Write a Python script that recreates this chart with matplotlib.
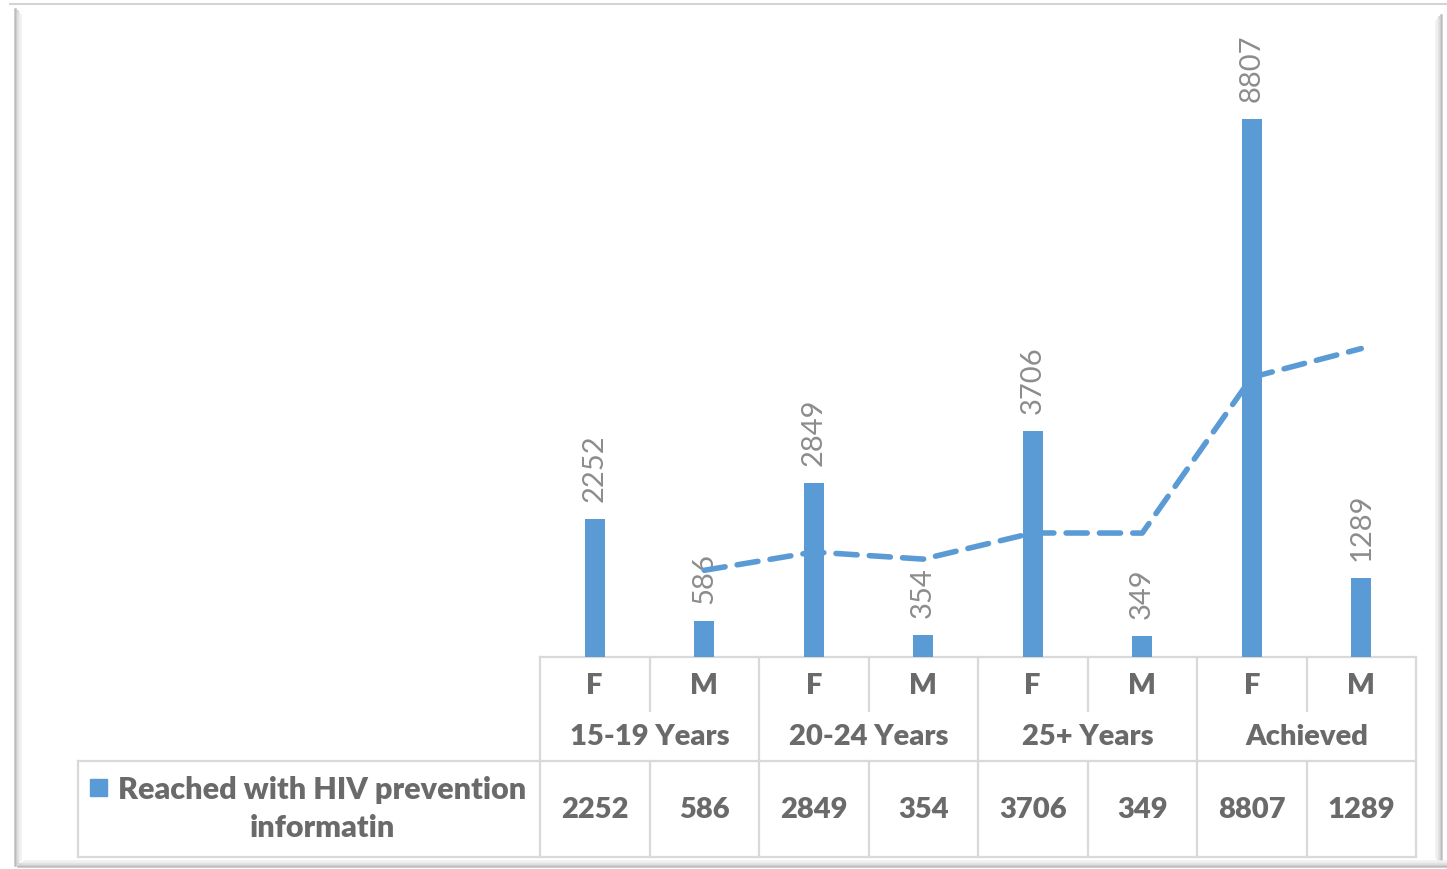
import numpy as np
import matplotlib
matplotlib.use("Agg")
import matplotlib.pyplot as plt

plt.rcParams['font.family'] = ['Lato', 'DejaVu Sans']

# data
sexes = ["F", "M", "F", "M", "F", "M", "F", "M"]
groups = ["15-19 Years", "20-24 Years", "25+ Years", "Achieved"]
reached = [2252, 586, 2849, 354, 3706, 349, 8807, 1289]
series_name = "Reached with HIV prevention\ninformatin"
# 2-period moving average trendline (starts at 2nd bar)
trend_x = [1, 2, 3, 4, 5, 6, 7]
trend_y = [1419, 1718, 1602, 2030, 2028, 4578, 5048]

BLUE = '#5b9bd5'
GRID = '#d9d9d9'
TXT = '#6a6a6a'
LBL = '#8c8c8c'

W, H = 1447, 870
fig = plt.figure(figsize=(W / 100, H / 100), dpi=100)

# overlay in pixel coords for frame and table
ov = fig.add_axes([0, 0, 1, 1], zorder=0)
ov.set_xlim(0, W)
ov.set_ylim(H, 0)
ov.axis('off')

# frame with soft shadow
ov.plot([10, W], [5, 5], color='#d4d4d4', lw=1.5)
for k, c in enumerate(['#bdbdbd', '#cfcfcf', '#e2e2e2', '#f0f0f0']):
    ov.plot([15 + k * 1.6, 15 + k * 1.6], [10 + k * 2, 866 - k * 2], color=c, lw=1.8)
    ov.plot([18 + k * 2, W], [867 - k * 1.6, 867 - k * 1.6], color=c, lw=1.8)
    ov.plot([1441 - k * 1.6, 1441 - k * 1.6], [16 + k * 2, 864 - k * 2], color=c, lw=1.8)

# table geometry
x0, cw = 540, 109.5
n = len(reached)
cols = x0 + cw * (np.arange(n) + 0.5)
xr = x0 + cw * n
y_axis, y_mid, y_row, y_bot = 658, 712, 762, 858
lw_g = 1.6

ov.plot([x0, xr], [y_axis, y_axis], color=GRID, lw=lw_g)
ov.plot([78, xr], [y_row, y_row], color=GRID, lw=lw_g)
ov.plot([78, xr], [y_bot, y_bot], color=GRID, lw=lw_g)
ov.plot([78, 78], [y_row, y_bot], color=GRID, lw=lw_g)
for j in range(len(groups) + 1):
    xx = x0 + 2 * cw * j
    ov.plot([xx, xx], [y_axis, y_bot], color=GRID, lw=lw_g)
for j in range(len(groups)):
    xx = x0 + 2 * cw * j + cw
    ov.plot([xx, xx], [y_axis, y_mid], color=GRID, lw=lw_g)
    ov.plot([xx, xx], [y_row, y_bot], color=GRID, lw=lw_g)

for i, s in enumerate(sexes):
    ov.text(cols[i], 686, s, ha='center', va='center', fontsize=21,
            fontweight='heavy', color=TXT)
    ov.text(cols[i], 810, str(reached[i]), ha='center', va='center', fontsize=21,
            fontweight='heavy', color=TXT)
for j, g in enumerate(groups):
    ov.text(x0 + 2 * cw * j + cw, 737, g, ha='center', va='center', fontsize=21,
            fontweight='heavy', color=TXT)

# legend cell
ov.add_patch(plt.Rectangle((90, 780), 17, 17, color=BLUE))
ov.text(322, 809, series_name, ha='center', va='center', fontsize=22,
        fontweight='heavy', color=TXT, linespacing=1.45)

# bar chart
ax = fig.add_axes([x0 / W, (H - y_axis) / H, cw * n / W, (y_axis - 47) / H], zorder=1)
ax.patch.set_alpha(0)
xs = np.arange(n)
ax.bar(xs, reached, width=0.18, color=BLUE, zorder=2)
for i, v in enumerate(reached):
    ax.annotate(str(v), (i, v), xytext=(0, 13), textcoords='offset points',
                rotation=90, ha='center', va='bottom', fontsize=21, color=LBL)
ax.plot(trend_x, trend_y, color=BLUE, lw=4, dashes=(3.8, 2.2),
        dash_capstyle='round', zorder=3)
ax.set_xlim(-0.5, n - 0.5)
ax.set_ylim(0, 10000)
ax.axis('off')

fig.savefig('out.png', dpi=100, facecolor='white')
